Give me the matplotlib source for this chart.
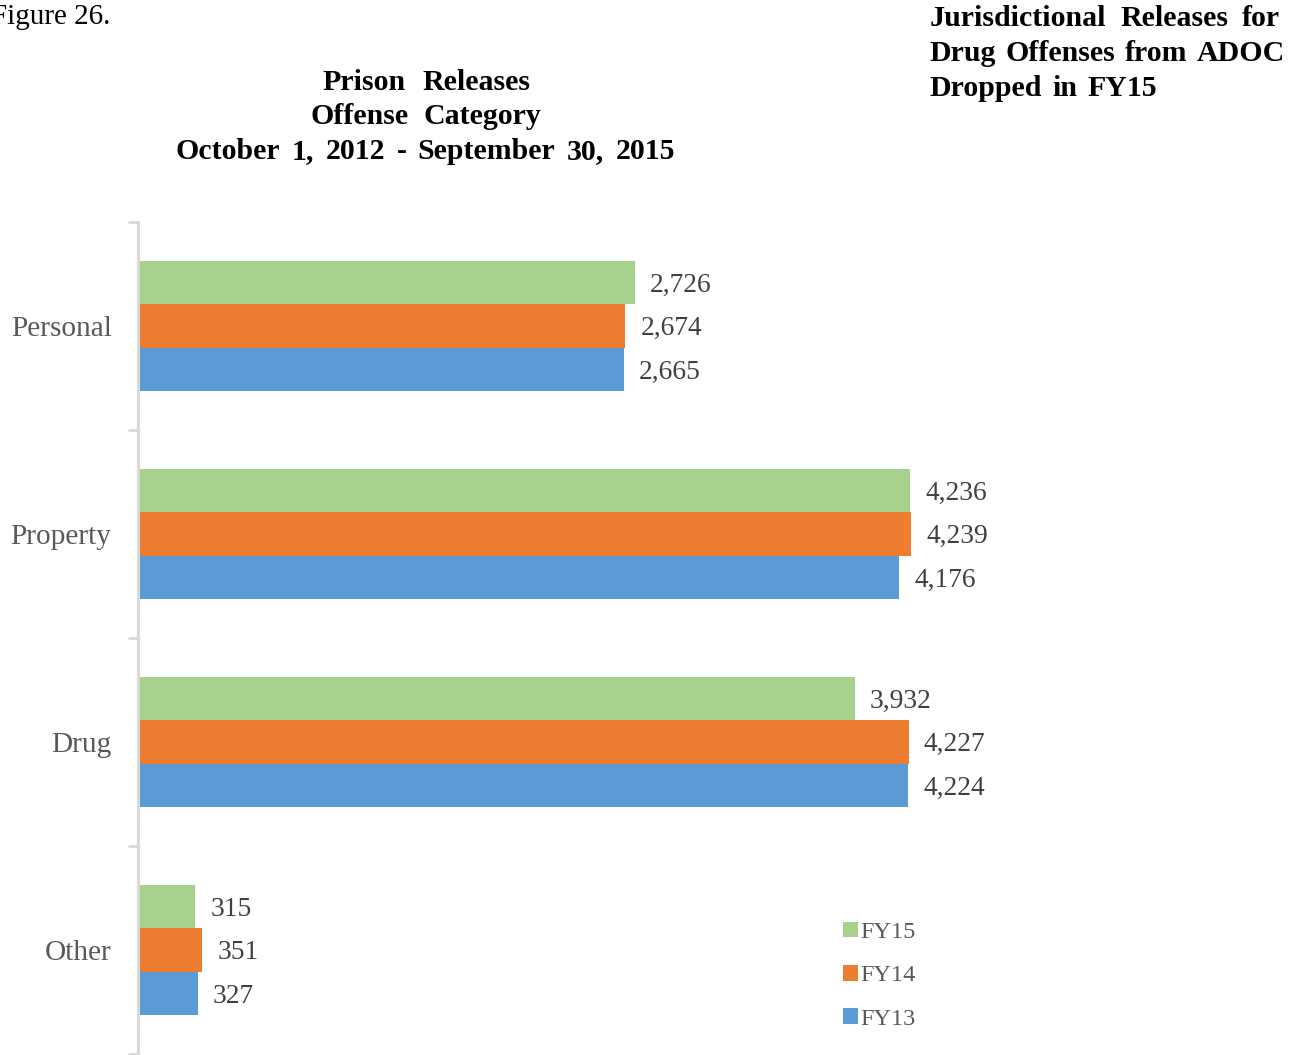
import numpy as np
from matplotlib import pyplot as plt

categories = ["Personal", "Property", "Drug", "Other"]
years = ["FY15", "FY14", "FY13"]
fy15 = [2726, 4236, 3932, 315]
fy14 = [2674, 4239, 4227, 351]
fy13 = [2665, 4176, 4224, 327]
colors = ["#A9D18E", "#ED7D31", "#5B9BD5"]

plt.rcParams["font.family"] = ["Liberation Serif", "DejaVu Serif"]

W, H = 1305, 1055
fig = plt.figure(figsize=(W / 100, H / 100), dpi=100)
ax = fig.add_axes([138 / W, 1 / H, 1152 / W, 832 / H])

y = np.arange(len(categories))
h = 0.208
for k, (vals, color, name) in enumerate(zip((fy15, fy14, fy13), colors, years)):
    pos = y + (k - 1) * h
    ax.barh(pos, vals, height=h, color=color, label=name)
    for p, v in zip(pos, vals):
        ax.annotate(f"{v:,}", (v, p), xytext=(11, -2), textcoords="offset points",
                    va="center", ha="left", fontsize=19.8, color="#404040")

ax.set_xlim(0, 6319)
ax.set_ylim(3.5, -0.5)
ax.set_yticks(y)
ax.set_yticklabels(categories, fontsize=21.2, color="#595959")
ax.tick_params(axis="y", which="major", length=0, pad=19)
ax.set_yticks(np.arange(-0.5, 4.0, 1.0), minor=True)
ax.tick_params(axis="y", which="minor", length=7.5, width=2, color="#d9d9d9")
ax.set_xticks([])
for s in ("top", "right", "bottom"):
    ax.spines[s].set_visible(False)
ax.spines["left"].set_color("#d9d9d9")
ax.spines["left"].set_linewidth(2.2)

ax.legend(loc="upper left", bbox_to_anchor=(0.593, 0.185), frameon=False,
          fontsize=17.5, handlelength=0.6, handleheight=0.6, handletextpad=0.1,
          labelspacing=0.9, labelcolor="#595959")

fig.text(-0.007, 1 - 17 / H, "Figure 26.", fontsize=21, va="center", ha="left")

title_kw = dict(fontsize=21.5, fontweight="bold", va="center")


def justify(x0, x1, ypx, words, spread=True):
    texts = [fig.text(x0 / W, 1 - ypx / H, w, ha="left", **title_kw) for w in words]
    r = fig.canvas.get_renderer()
    widths = [t.get_window_extent(r).width for t in texts]
    gap = (x1 - x0 - sum(widths)) / (len(words) - 1) if spread else 10
    x = x0
    for t, wd in zip(texts, widths):
        t.set_x(x / W)
        x += wd + gap


# centred chart title, lines spread to the widths seen in the reference
title_lines = ["Prison Releases", "Offense Category", "October 1, 2012 - September 30, 2015"]
title_spans = [(322, 530), (311, 541), (176, 675)]
for i, (line, (a, b)) in enumerate(zip(title_lines, title_spans)):
    justify(a, b, 82 + 35 * i, line.split())

side_lines = ["Jurisdictional Releases for", "Drug Offenses from ADOC", "Dropped in FY15"]
side_ends = [1280, 1285, None]
for i, (line, end) in enumerate(zip(side_lines, side_ends)):
    justify(930, end or 0, 18 + 35.5 * i, line.split(), spread=end is not None)

plt.savefig("out.png", dpi=100)
